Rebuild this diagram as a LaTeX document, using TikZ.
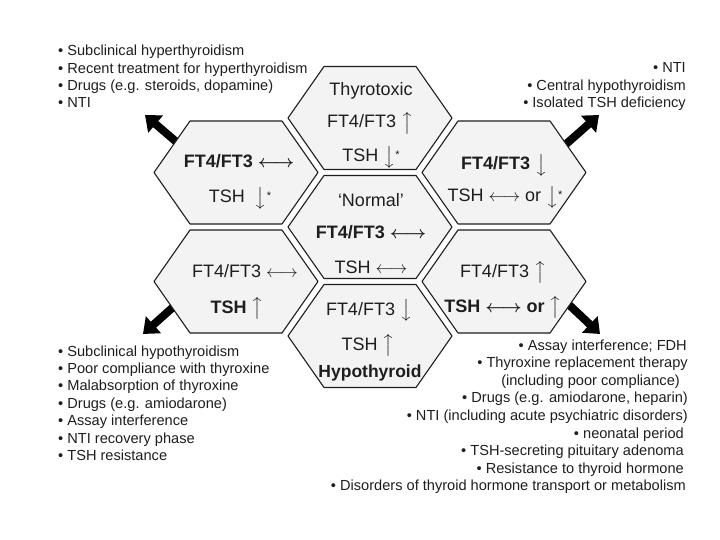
\documentclass[tikz,border=0pt]{standalone}
\usepackage{amsmath, amssymb}
\usepackage{fontspec}
\setmainfont{Liberation Sans}
\usepackage{xcolor}
\usepackage{tikz}
\usetikzlibrary{arrows.meta}

\definecolor{hexfill}{HTML}{F3F3F3}
\definecolor{inkgray}{HTML}{1E1E1E}

\newcommand{\upar}{\mbox{\boldmath$\big\uparrow$}}
\newcommand{\downar}{\mbox{\boldmath$\big\downarrow$}}
\newcommand{\lrar}{$\longleftrightarrow$}
\newcommand{\astmark}{\raisebox{3pt}{\fontsize{11}{11}\selectfont *}}

\begin{document}
\begin{tikzpicture}[x=1pt, y=-1pt,
    hexcell/.style={draw=inkgray, fill=hexfill, line width=1.1pt, line join=round},
    hextxt/.style={font=\fontsize{18}{21}\selectfont, text=inkgray, inner sep=0pt, anchor=base},
    hexbold/.style={hextxt, font=\fontsize{18}{21}\selectfont\bfseries\boldmath},
    bullet/.style={font=\fontsize{14.6}{17.5}\selectfont, text=inkgray, inner sep=0pt},
    fatarrow/.style={line width=8pt, draw=black, -{Triangle[width=22pt, length=14pt]}}]

    \useasboundingbox (0,0) rectangle (720,540);

    % 1. Mũi tên đậm (vẽ trước, đuôi nằm dưới các ô)
    \coordinate (ulTail) at (180,145);
    \coordinate (ulTip)  at (145,115);
    \coordinate (urTail) at (565,145);
    \coordinate (urTip)  at (599,115);
    \coordinate (llTail) at (180,301);
    \coordinate (llTip)  at (143,334);
    \coordinate (lrTail) at (565,301);
    \coordinate (lrTip)  at (600,334);
    \draw[fatarrow] (ulTail) -- (ulTip);
    \draw[fatarrow] (urTail) -- (urTip);
    \draw[fatarrow] (llTail) -- (llTip);
    \draw[fatarrow] (lrTail) -- (lrTip);

    % 2. Tổ ong 7 ô lục giác
    \foreach \cx/\cy in {370/118, 236/172.5, 504/172.5, 370/227, 236/281.5, 504/281.5, 370/336}
        \draw[hexcell] (\cx-82,\cy) -- (\cx-46,\cy-51.5) -- (\cx+46,\cy-51.5)
            -- (\cx+82,\cy) -- (\cx+46,\cy+51.5) -- (\cx-46,\cy+51.5) -- cycle;

    % 3. Ô trên: Thyrotoxic
    \node[hextxt] (topName) at (371,96) {Thyrotoxic};
    \node[hextxt] (topFT)   at (370,128) {FT4/FT3 \upar};
    \node[hextxt] (topTSH)  at (371,162) {TSH \downar\astmark};

    % 4. Ô trái trên
    \node[hexbold] (ulFT)  at (239,168) {FT4/FT3 \lrar};
    \node[hextxt]  (ulTSH) at (240,203) {TSH \ \downar\astmark};

    % 5. Ô phải trên
    \node[hexbold] (urFT)  at (504,170) {FT4/FT3 \downar};
    \node[hextxt]  (urTSH) at (505,202) {TSH \lrar{} or \downar\astmark};

    % 6. Ô giữa: 'Normal'
    \node[hextxt]  (midName) at (371,207) {‘Normal’};
    \node[hexbold] (midFT)   at (371,238) {FT4/FT3 \lrar};
    \node[hextxt]  (midTSH)  at (371,273) {TSH \lrar};

    % 7. Ô trái dưới
    \node[hextxt]  (llFT)  at (245,277) {FT4/FT3 \lrar};
    \node[hexbold] (llTSH) at (237,313) {TSH \upar};

    % 8. Ô phải dưới
    \node[hextxt]  (lrFT)  at (503,277) {FT4/FT3 \upar};
    \node[hexbold] (lrTSH) at (503,312) {TSH \lrar{} or \upar};

    % 9. Ô dưới: Hypothyroid
    \node[hextxt]  (botFT)   at (369,315) {FT4/FT3 \downar};
    \node[hextxt]  (botTSH)  at (368,350) {TSH \upar};
    \node[hexbold, font=\fontsize{17.5}{21}\selectfont\bfseries] (botName) at (370,377) {Hypothyroid};

    % 10. Danh sách nguyên nhân
    \foreach \txt [count=\i] in {Subclinical hyperthyroidism, Recent treatment for hyperthyroidism,
            {Drugs (e.g. steroids, dopamine)}, NTI}
        \node[bullet, anchor=base west] (tl\i) at (58,{56+17.2*(\i-1)}) {\textbullet\ \txt};

    \foreach \txt [count=\i] in {NTI, Central hypothyroidism, Isolated TSH deficiency}
        \node[bullet, anchor=base east] (tr\i) at (686,{73+17.3*(\i-1)}) {\textbullet\ \txt};

    \foreach \txt [count=\i] in {Subclinical hypothyroidism, Poor compliance with thyroxine,
            Malabsorption of thyroxine, {Drugs (e.g. amiodarone)}, Assay interference,
            NTI recovery phase, TSH resistance}
        \node[bullet, anchor=base west] (bl\i) at (58,{356+17.4*(\i-1)}) {\textbullet\ \txt};

    \foreach \txt/\xr/\yb [count=\i] in {{Assay interference; FDH}/687/350,
            {Thyroxine replacement therapy}/688/367.6,
            {Drugs (e.g. amiodarone, heparin)}/688/402.8,
            {NTI (including acute psychiatric disorders)}/688/420.4,
            {neonatal period}/684/438, {TSH-secreting pituitary adenoma}/684/455.6,
            {Resistance to thyroid hormone}/684/473.2,
            {Disorders of thyroid hormone transport or metabolism}/686/490.8}
        \node[bullet, anchor=base east] (br\i) at (\xr,\yb) {\textbullet\ \txt};
    \node[bullet, anchor=base east] (brCont) at (680,385.2) {(including poor compliance)};

\end{tikzpicture}
\end{document}
